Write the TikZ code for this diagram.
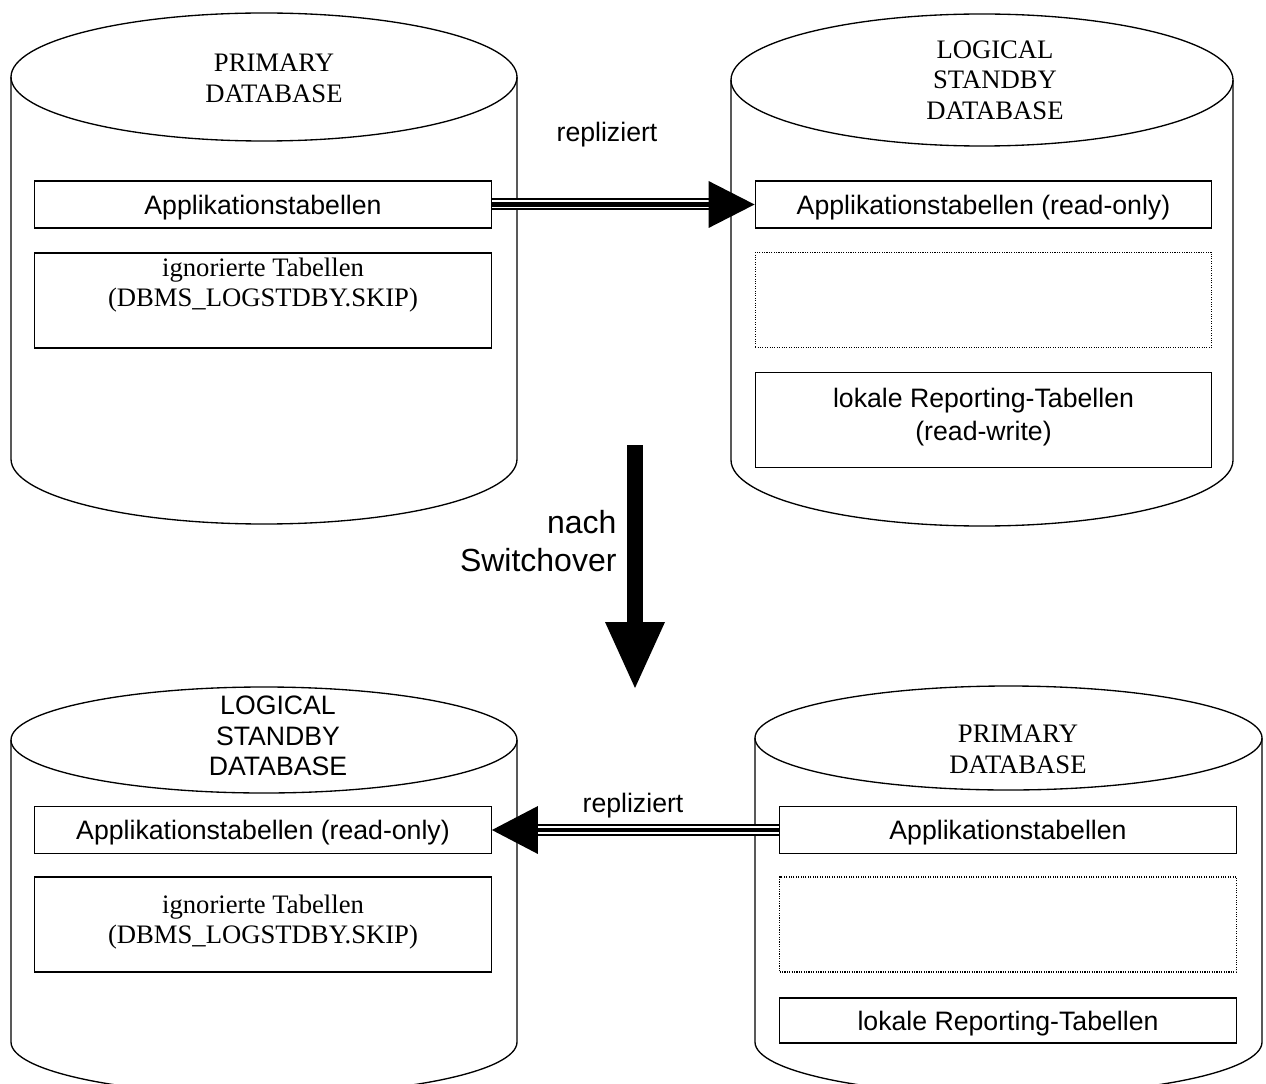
\documentclass[tikz,border=0pt]{standalone}
\usepackage{fontspec}
\setmainfont{Liberation Serif}
\setsansfont{Liberation Sans}
\usetikzlibrary{calc}

\tikzset{every picture/.style={line width=0.75pt}}
\tikzset{
  dbcan/.style={line width=1pt},
  tabbox/.style={draw, line width=0.9pt, inner sep=0pt, minimum width=342.5pt, minimum height=35.25pt, align=center, text depth=0pt, font=\sffamily\fontsize{20}{23}\selectfont},
  tabboxtall/.style={tabbox, minimum height=71.25pt},
  skipbox/.style={tabboxtall, font=\rmfamily\fontsize{20}{22.5}\selectfont},
  emptybox/.style={tabboxtall, line width=0.8pt, dash pattern=on 0.8pt off 1pt},
  serifcap/.style={inner sep=0pt, align=center, font=\rmfamily\fontsize{20}{23}\selectfont},
  sanscap/.style={inner sep=0pt, align=center, font=\sffamily\fontsize{20}{23}\selectfont},
  repshaft/.style={line width=1.5pt, double distance=6pt},
  repcore/.style={line width=3.4pt},
}

\begin{document}
\begin{tikzpicture}[x=0.75pt,y=0.75pt,yscale=-1,xscale=1]
\useasboundingbox (0,0) rectangle (1266,1084);
\clip (0,0) rectangle (1266,1084);

%Shape: Can [primary, top left]
\draw [dbcan] (264,77) ellipse (253 and 64);
\draw [dbcan] (11,77) -- (11,459) arc (180:0:253 and 65) -- (517,77);
%Shape: Can [logical standby, top right]
\draw [dbcan] (982,80) ellipse (251 and 66);
\draw [dbcan] (731,80) -- (731,460) arc (180:0:251 and 66) -- (1233,80);
%Shape: Can [logical standby, bottom left]
\draw [dbcan] (264,740) ellipse (253 and 53);
\draw [dbcan] (11,740) -- (11,1042) arc (180:0:253 and 53) -- (517,740);
%Shape: Can [primary, bottom right]
\draw [dbcan] (1008.5,738) ellipse (253.5 and 52);
\draw [dbcan] (755,738) -- (755,1042) arc (180:0:253.5 and 53) -- (1262,738);

% Text Node
\draw (274,78) node (capTL) [serifcap] {PRIMARY\\DATABASE};
% Text Node
\draw (995,80) node (capTR) [serifcap] {LOGICAL\\STANDBY\\DATABASE};
% Text Node
\draw (278,736) node (capBL) [sanscap] {LOGICAL\\STANDBY\\DATABASE};
% Text Node
\draw (1018,749) node (capBR) [serifcap] {PRIMARY\\DATABASE};

%Tables top left
\draw (263,204.5) node (appTL) [tabbox] {Applikationstabellen};
\draw (263,300.5) node (skipTL) [skipbox, text depth=27pt] {ignorierte Tabellen\\(DBMS\_LOGSTDBY.SKIP)};
%Tables top right
\draw (983.5,204.5) node (appTR) [tabbox] {Applikationstabellen (read-only)};
\draw (983.5,300) node (freeTR) [emptybox] {};
\draw (983.5,420) node (repTR) [tabboxtall, text depth=8pt, font=\sffamily\fontsize{20}{25}\selectfont] {lokale Reporting-Tabellen\\(read-write)};
%Tables bottom left
\draw (263,830) node (appBL) [tabbox] {Applikationstabellen (read-only)};
\draw (263,924.5) node (skipBL) [skipbox, text depth=7.5pt] {ignorierte Tabellen\\(DBMS\_LOGSTDBY.SKIP)};
%Tables bottom right
\draw (1008,830) node (appBR) [tabbox] {Applikationstabellen};
\draw (1008,924.5) node (freeBR) [emptybox] {};
\draw (1008,1020.5) node (repBR) [tabbox, minimum height=33.75pt] {lokale Reporting-Tabellen};

%Replication top
\draw [repshaft] (appTL.east) -- ($(appTR.west)+(-46,0)$);
\draw [repcore] (appTL.east) -- ($(appTR.west)+(-40,0)$);
\fill (appTR.west) -- ++(-46,-23.5) -- ++(0,47) -- cycle;
\draw (607,135) node (repA) [sanscap] {repliziert};

%Replication bottom
\draw [repshaft] (appBR.west) -- ($(appBL.east)+(46,0)$);
\draw [repcore] (appBR.west) -- ($(appBL.east)+(40,0)$);
\fill (appBL.east) -- ++(46,-24) -- ++(0,48) -- cycle;
\draw (633,806) node (repB) [sanscap] {repliziert};

%Switchover arrow
\coordinate (swTop) at (635,445);
\coordinate (swTip) at (635,688);
\draw [line width=12pt] (swTop) -- ($(swTip)+(0,-60)$);
\fill (swTip) -- ++(-30,-66) -- ++(60,0) -- cycle;
\draw (617,541) node (swLabel) [anchor=east, align=right, inner sep=0pt, font=\sffamily\fontsize{24}{28}\selectfont] {nach\\Switchover};

\end{tikzpicture}
\end{document}
